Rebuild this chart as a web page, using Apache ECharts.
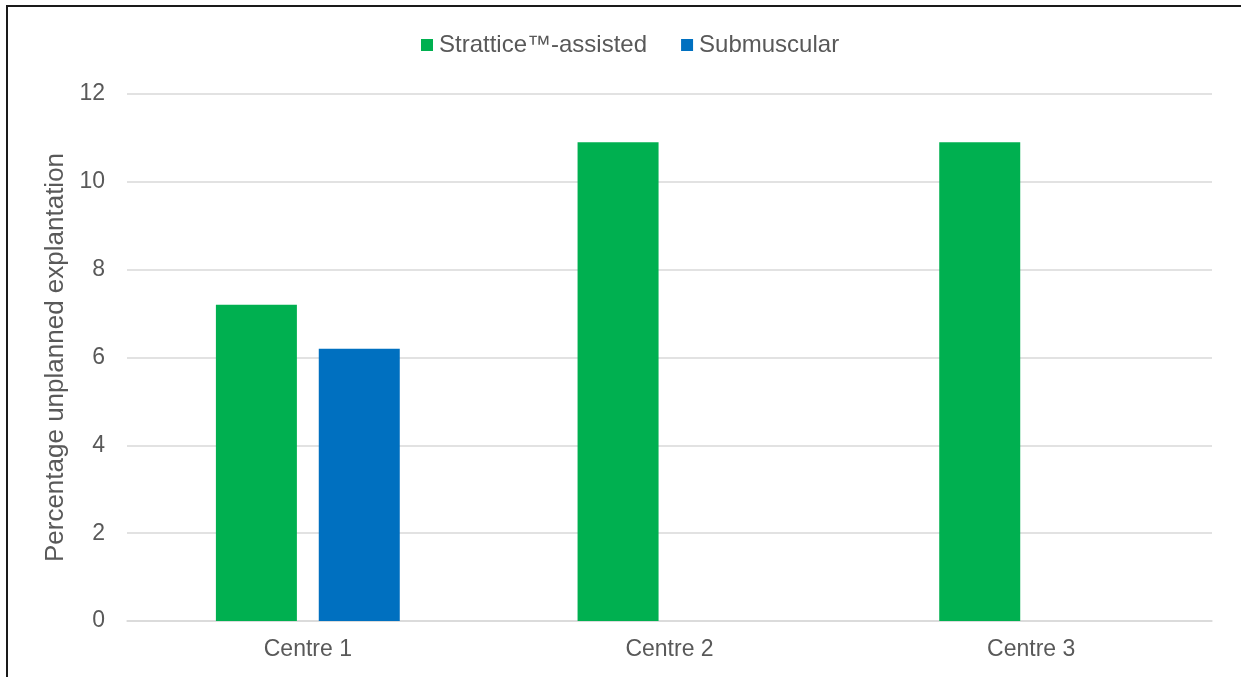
<!DOCTYPE html>
<html>
<head>
<meta charset="utf-8">
<title>Unplanned explantation by centre</title>
<script src="https://cdn.jsdelivr.net/npm/echarts@6/dist/echarts.min.js"></script>
<style>
  html, body { margin: 0; padding: 0; background: #fff; }
  #chart { width: 1241px; height: 677px; }
</style>
</head>
<body>
<div id="chart"></div>
<script>
// Chart data
const centres = ['Centre 1', 'Centre 2', 'Centre 3'];
const strattice = [7.2, 10.9, 10.9];
const submuscular = [6.2, null, null];
const yTicks = { min: 0, max: 12, interval: 2 };

const textColor = '#595959';
const font = 'Liberation Sans, Arial, sans-serif';

const chart = echarts.init(document.getElementById('chart'), null, { renderer: 'canvas' });

chart.setOption({
  animation: false,
  backgroundColor: '#ffffff',
  textStyle: { fontFamily: font, color: textColor },
  // frame along the top and left edges
  graphic: [
    { type: 'line', shape: { x1: 6, y1: 6, x2: 1241, y2: 6 }, style: { stroke: '#1a1a1a', lineWidth: 2 } },
    { type: 'line', shape: { x1: 7, y1: 6, x2: 7, y2: 677 }, style: { stroke: '#1a1a1a', lineWidth: 2 } }
  ],
  legend: {
    top: 28,
    left: 416,
    itemWidth: 12,
    itemHeight: 12,
    itemGap: 34,
    icon: 'rect',
    textStyle: { fontSize: 24, color: textColor, fontFamily: font, padding: [0, 0, 0, 1] },
    data: ['Strattice™-assisted', 'Submuscular']
  },
  grid: { left: 127, right: 29, top: 94, bottom: 56, containLabel: false },
  xAxis: {
    type: 'category',
    data: centres,
    axisLine: { show: true, lineStyle: { color: '#d9d9d9', width: 1.5 } },
    axisTick: { show: false },
    axisLabel: { fontSize: 23, color: textColor, fontFamily: font, margin: 17 },
    splitLine: { show: false }
  },
  yAxis: {
    type: 'value',
    min: yTicks.min,
    max: yTicks.max,
    interval: yTicks.interval,
    name: 'Percentage unplanned explantation',
    nameLocation: 'middle',
    nameGap: 50,
    nameRotate: 90,
    nameTextStyle: { fontSize: 26, color: textColor, fontFamily: font },
    axisLine: { show: false },
    axisTick: { show: false },
    axisLabel: { fontSize: 23, color: textColor, fontFamily: font, margin: 22 },
    splitLine: { show: true, lineStyle: { color: '#d9d9d9', width: 1.5 } }
  },
  series: [
    {
      name: 'Strattice™-assisted',
      type: 'bar',
      data: strattice,
      barWidth: 81,
      barGap: '27%',
      itemStyle: { color: '#00B050' }
    },
    {
      name: 'Submuscular',
      type: 'bar',
      data: submuscular,
      barWidth: 81,
      barGap: '27%',
      itemStyle: { color: '#0070C0' }
    }
  ]
});
</script>
</body>
</html>
